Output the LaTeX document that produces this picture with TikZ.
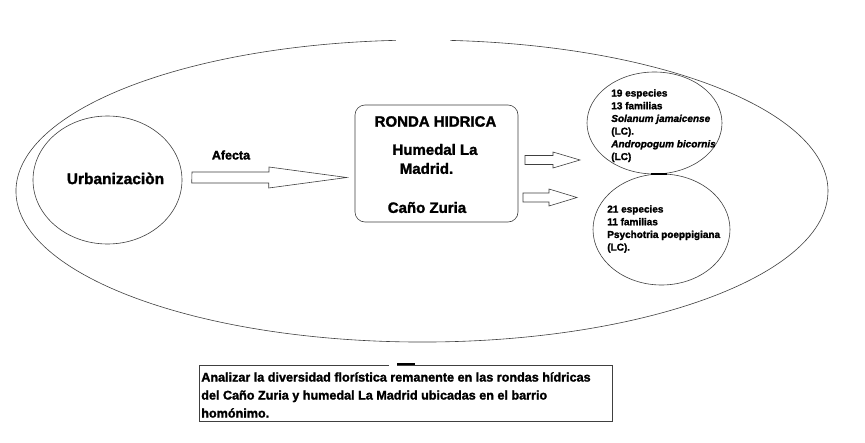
\documentclass[tikz,border=0pt]{standalone}
\usepackage{fontspec}
\setmainfont{Liberation Sans}[BoldFeatures={FakeBold=1.6},BoldItalicFeatures={FakeBold=1.6}]
\usetikzlibrary{shapes.geometric}
\begin{document}
\begin{tikzpicture}[x=1pt,y=-1pt,line width=0.6pt,
  shapeline/.style={draw=black!75},
  blockarrow/.style={draw=black!75,fill=white,line join=miter},
  lbl/.style={inner sep=0pt,font=\bfseries\fontsize{#1}{#1}\selectfont},
  lbl/.default=15,
  ctext/.style={inner sep=0pt,anchor=north west,align=left,
    font=\bfseries\fontsize{10}{12.7}\selectfont}]
\useasboundingbox[fill=white] (0,0) rectangle (865,442);
% outer ellipse with gap at the top
\coordinate (ostart) at (450.3,40.4);
\draw[shapeline] (ostart) arc[start angle=274,end angle=626.3,x radius=406,y radius=151];
% Urbanizacion
\node[shapeline,ellipse,minimum width=149pt,minimum height=128pt,inner sep=0pt] (urb) at (107.5,180) {};
\node[lbl=15.5] (urbt) at (115.5,178.5) {Urbanizaciòn};
% Ronda box
\node[shapeline,rectangle,rounded corners=10pt,minimum width=163pt,minimum height=117pt,inner sep=0pt] (ronda) at (436.5,163.5) {};
\node[lbl=15] (r1) at (435.5,121.5) {RONDA HIDRICA};
\node[lbl=15] (r2) at (435,149.5) {Humedal La};
\node[lbl=15] (r3) at (426.5,168.5) {Madrid.};
\node[lbl=15] (r4) at (427,207.5) {Caño Zuria};
% Afecta
\node[lbl=12.5] (afecta) at (231,155) {Afecta};
% big arrow from urb to ronda
\coordinate (a0) at (192,177.5);
\coordinate (atip) at ([xshift=-8pt]ronda.west |- a0);
\draw[blockarrow] (a0) ++(0,-5.5) -- ++(77,0) -- ++(0,-5) -- (atip) -- ++(-78,10.5) -- ++(0,-5) -- ++(-77,0) -- cycle;
% small arrows
\coordinate (b0) at (525,160);
\draw[blockarrow] (b0) ++(0,-4.5) -- ++(28,0) -- ++(0,-3.5) -- ++(27,8) -- ++(-27,8) -- ++(0,-3.5) -- ++(-28,0) -- cycle;
\coordinate (c0) at (523,197.5);
\draw[blockarrow] (c0) ++(0,-4.5) -- ++(26,0) -- ++(0,-4) -- ++(28,8.5) -- ++(-28,8.5) -- ++(0,-4) -- ++(-26,0) -- cycle;
% species circles
\node[shapeline,ellipse,minimum width=135pt,minimum height=102pt,inner sep=0pt] (c1) at (654.5,123) {};
\node[shapeline,ellipse,minimum width=137pt,minimum height=111pt,inner sep=0pt] (c2) at (661.5,229.5) {};
\draw[line width=2pt] (651,174) -- (667,174);
\node[ctext] (t1) at (611,89) {19 especies\\13 familias\\\textit{Solanum jamaicense}\\(LC).\\\textit{Andropogum bicornis}\\(LC)};
\node[ctext] (t2) at (607,205) {21 especies\\11 familias\\Psychotria poeppigiana\\(LC).};
% objective box
\node[shapeline,rectangle,minimum width=413pt,minimum height=56pt,inner sep=0pt] (goal) at (405.5,393) {};
\draw[white,line width=1.5pt] (389,365) -- (397,365);
\draw[line width=2pt] (397,364) -- (415,364);
\node[inner sep=0pt,anchor=north west,align=left,font=\bfseries\fontsize{12.6}{18}\selectfont] (goalt) at (201,372) {Analizar la diversidad florística remanente en las rondas hídricas\\del Caño Zuria y humedal La Madrid ubicadas en el barrio\\homónimo.};
\end{tikzpicture}
\end{document}
